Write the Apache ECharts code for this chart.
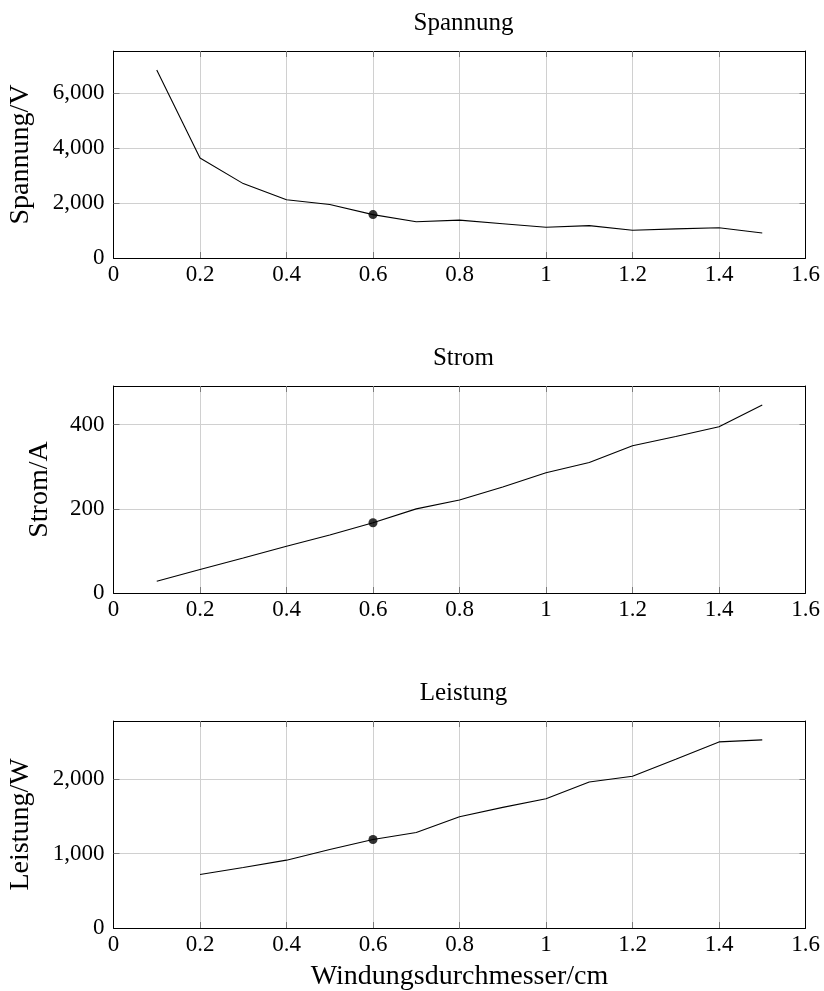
<!DOCTYPE html>
<html>
<head>
<meta charset="utf-8">
<script src="https://cdn.jsdelivr.net/npm/echarts@6/dist/echarts.min.js"></script>
<style>
  html, body { margin: 0; padding: 0; background: #fff; }
  #chart { width: 824px; height: 991px; }
</style>
</head>
<body>
<div id="chart"></div>
<script>
// Winding diameter (cm) shared by all three panels
const diameters = [0.1, 0.2, 0.3, 0.4, 0.5, 0.6, 0.7, 0.8, 0.9, 1.0, 1.1, 1.2, 1.3, 1.4, 1.5];
// Voltage in V
const spannung = [6850, 3640, 2710, 2120, 1950, 1580, 1320, 1380, 1250, 1120, 1180, 1010, 1060, 1100, 910];
// Current in A
const strom = [28, 56, 83, 111, 138, 167, 200, 221, 252, 286, 310, 350, 372, 395, 447];
// Power in W (no value at 0.1 cm)
const leistung = [null, 718, 812, 911, 1054, 1189, 1283, 1494, 1620, 1736, 1960, 2037, 2266, 2499, 2526];
// Highlighted operating point
const markedDiameter = 0.6;

const titles = ['Spannung', 'Strom', 'Leistung'];
const yNames = ['Spannung/V', 'Strom/A', 'Leistung/W'];
const xName = 'Windungsdurchmesser/cm';
const xTicks = [0, 0.2, 0.4, 0.6, 0.8, 1, 1.2, 1.4, 1.6];
const yTicksSpannung = [0, 2000, 4000, 6000];
const yTicksStrom = [0, 200, 400];
const yTicksLeistung = [0, 1000, 2000];

const FONT = '"Liberation Serif", "Times New Roman", serif';
const panels = [
  { values: spannung, yTicks: yTicksSpannung, yMax: 7540, top: 51, nameGap: 79 },
  { values: strom, yTicks: yTicksStrom, yMax: 492, top: 386, nameGap: 60 },
  { values: leistung, yTicks: yTicksLeistung, yMax: 2780, top: 721, nameGap: 79 }
];
const LEFT = 113.5, WIDTH = 692, HEIGHT = 207;

const fmtNum = v => Number(v).toLocaleString('en-US');
const fmtX = v => String(Math.round(v * 10) / 10);

const frame = { show: true, onZero: false, lineStyle: { color: '#000', width: 1 } };
const gridLine = { show: true, lineStyle: { color: '#d0d0d0', width: 1 } };
const innerTicks = vals => ({ show: true, inside: true, length: 6, customValues: vals,
                              lineStyle: { color: '#7a7a7a', width: 1 } });

const grid = [], xAxis = [], yAxis = [], series = [], title = [];
panels.forEach((p, i) => {
  grid.push({ left: LEFT, top: p.top, width: WIDTH, height: HEIGHT, show: false,
              containLabel: false, outerBoundsMode: 'none' });
  title.push({
    text: titles[i], left: LEFT + WIDTH / 2 - 1, top: p.top - 45, textAlign: 'center',
    textStyle: { fontFamily: FONT, fontSize: 25, fontWeight: 'normal', color: '#000' }
  });
  const xInner = xTicks.slice(1, -1);
  const yInner = p.yTicks.slice(1);
  // bottom axis with labels
  xAxis.push({
    gridIndex: i, type: 'value', min: 0, max: 1.6, interval: 0.2, position: 'bottom',
    axisLine: frame, axisTick: innerTicks(xInner), splitLine: gridLine,
    axisLabel: { fontFamily: FONT, fontSize: 23, color: '#000', margin: 5, formatter: fmtX,
                 customValues: xTicks },
    name: i === 2 ? xName : '', nameLocation: 'middle', nameGap: 35,
    nameTextStyle: { fontFamily: FONT, fontSize: 28, color: '#000' }
  });
  // top edge of the frame, with inward ticks
  xAxis.push({
    gridIndex: i, type: 'value', min: 0, max: 1.6, interval: 0.2, position: 'top',
    axisLine: frame, axisTick: innerTicks(xInner), axisLabel: { show: false }, splitLine: { show: false }
  });
  yAxis.push({
    gridIndex: i, type: 'value', min: 0, max: p.yMax, position: 'left',
    axisLine: frame, axisTick: innerTicks(yInner), splitLine: gridLine,
    axisLabel: { fontFamily: FONT, fontSize: 23, color: '#000', margin: 9, formatter: fmtNum,
                 customValues: p.yTicks },
    name: yNames[i], nameLocation: 'middle', nameGap: p.nameGap, nameRotate: 90,
    nameTextStyle: { fontFamily: FONT, fontSize: 28, color: '#000' }
  });
  // right edge of the frame, with inward ticks
  yAxis.push({
    gridIndex: i, type: 'value', min: 0, max: p.yMax, position: 'right',
    axisLine: frame, axisTick: innerTicks(yInner), axisLabel: { show: false }, splitLine: { show: false }
  });
  const pts = diameters.map((d, k) => [d, p.values[k]]);
  series.push({
    type: 'line', xAxisIndex: 2 * i, yAxisIndex: 2 * i,
    data: pts, showSymbol: false, connectNulls: false, silent: true,
    lineStyle: { color: '#000', width: 1.1 }
  });
  const mk = diameters.indexOf(markedDiameter);
  series.push({
    type: 'scatter', xAxisIndex: 2 * i, yAxisIndex: 2 * i,
    data: [[diameters[mk], p.values[mk]]], symbol: 'circle', symbolSize: 9, silent: true,
    itemStyle: { color: '#000' }, z: 5
  });
});

const chart = echarts.init(document.getElementById('chart'), null, { renderer: 'canvas' });
chart.setOption({
  animation: false, backgroundColor: '#fff',
  title, grid, xAxis, yAxis, series
});
</script>
</body>
</html>
